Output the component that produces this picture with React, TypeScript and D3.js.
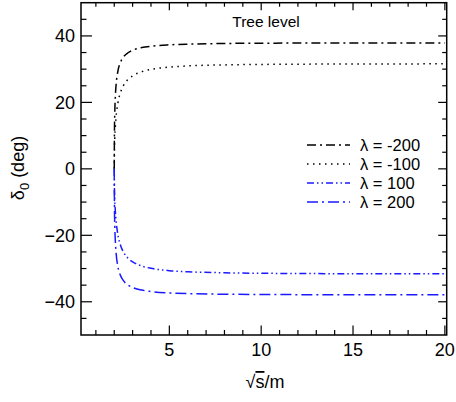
import React, { useEffect, useRef } from "react";
import * as d3 from "d3";

// sqrt(s)/m sample points
const sqrtS = [2.0, 2.01, 2.03, 2.06, 2.1, 2.2, 2.35, 2.5, 2.75, 3, 3.5, 4, 5, 6, 8, 10, 12.5, 15, 17.5, 20];

// delta_0 in degrees
const deltaM200 = [0, 10.81, 17.14, 21.81, 25.25, 29.44, 32.21, 33.64, 34.94, 35.68, 36.49, 36.91, 37.33, 37.53, 37.73, 37.81, 37.86, 37.89, 37.9, 37.91];
const deltaM100 = [0, 5.6, 9.41, 12.75, 15.62, 19.83, 23.12, 25.03, 26.89, 28.0, 29.25, 29.93, 30.63, 30.97, 31.28, 31.42, 31.51, 31.56, 31.58, 31.6];
const deltaP100 = [0, -5.6, -9.41, -12.75, -15.62, -19.83, -23.12, -25.03, -26.89, -28.0, -29.25, -29.93, -30.63, -30.97, -31.28, -31.42, -31.51, -31.56, -31.58, -31.6];
const deltaP200 = [0, -10.81, -17.14, -21.81, -25.25, -29.44, -32.21, -33.64, -34.94, -35.68, -36.49, -36.91, -37.33, -37.53, -37.73, -37.81, -37.86, -37.89, -37.9, -37.91];

const seriesLabels = ["λ = -200", "λ = -100", "λ = 100", "λ = 200"];
const xMajorTicks = [5, 10, 15, 20];
const yMajorTicks = [-40, -20, 0, 20, 40];

const W = 456;
const H = 402;
const FONT = "'Liberation Sans', Arial, Helvetica, sans-serif";

export default function App() {
  const ref = useRef<SVGSVGElement>(null);

  useEffect(() => {
    const svg = d3.select(ref.current);
    svg.selectAll("*").remove();

    const left = 81, right = 446.7, top = 2.7, bottom = 335;
    const x = d3.scaleLinear().domain([0.19, 20.1]).range([left, right]);
    const y = d3.scaleLinear().domain([-50, 50]).range([bottom, top]);

    const series = [
      { vals: deltaM200, color: "#000", dash: "9,4,2,4" },
      { vals: deltaM100, color: "#000", dash: "1.5,4.5" },
      { vals: deltaP100, color: "#1a1aff", dash: "7,3,1.5,3,1.5,3" },
      { vals: deltaP200, color: "#1a1aff", dash: "11,4,2,4" },
    ];

    svg
      .append("defs")
      .append("clipPath")
      .attr("id", "plotclip")
      .append("rect")
      .attr("x", left)
      .attr("y", top)
      .attr("width", right - left)
      .attr("height", bottom - top);

    const line = d3
      .line<number>()
      .x((_, i) => x(sqrtS[i]))
      .y((d) => y(d))
      .curve(d3.curveMonotoneX);

    const g = svg.append("g").attr("clip-path", "url(#plotclip)");
    series.forEach((s) => {
      g.append("path")
        .attr("d", line(s.vals))
        .attr("fill", "none")
        .attr("stroke", s.color)
        .attr("stroke-width", 1.5)
        .attr("stroke-dasharray", s.dash);
    });

    // ticks (inward, all four sides)
    const ticks = svg.append("g").attr("stroke", "#000").attr("stroke-width", 1.2);
    const xMinor = d3.range(1, 21);
    xMinor.forEach((v) => {
      const len = v % 5 === 0 ? 9.5 : 5;
      ticks.append("line").attr("x1", x(v)).attr("x2", x(v)).attr("y1", bottom).attr("y2", bottom - len);
      ticks.append("line").attr("x1", x(v)).attr("x2", x(v)).attr("y1", top).attr("y2", top + len * 0.8);
    });
    const yMinor = d3.range(-45, 50, 5);
    yMinor.forEach((v) => {
      const major = v % 20 === 0;
      ticks.append("line").attr("x1", left).attr("x2", left + (major ? 11 : 5.5)).attr("y1", y(v)).attr("y2", y(v));
      ticks.append("line").attr("x1", right).attr("x2", right - (major ? 8.5 : 4.5)).attr("y1", y(v)).attr("y2", y(v));
    });

    // frame
    svg
      .append("rect")
      .attr("x", left)
      .attr("y", top)
      .attr("width", right - left)
      .attr("height", bottom - top)
      .attr("fill", "none")
      .attr("stroke", "#000")
      .attr("stroke-width", 1.5);

    // tick labels
    svg
      .selectAll(".xl")
      .data(xMajorTicks)
      .enter()
      .append("text")
      .attr("x", (d) => x(d))
      .attr("y", 356)
      .attr("text-anchor", "middle")
      .attr("font-family", FONT)
      .attr("font-size", 18)
      .text((d) => d);

    svg
      .selectAll(".yl")
      .data(yMajorTicks)
      .enter()
      .append("text")
      .attr("x", 75)
      .attr("y", (d) => y(d) + 6.5)
      .attr("text-anchor", "end")
      .attr("font-family", FONT)
      .attr("font-size", 18)
      .text((d) => (d < 0 ? "\u2212" + Math.abs(d) : String(d)));

    // axis titles
    const xt = svg
      .append("text")
      .attr("x", 265)
      .attr("y", 388)
      .attr("text-anchor", "middle")
      .attr("font-family", FONT)
      .attr("font-size", 18);
    xt.append("tspan").text("\u221A");
    xt.append("tspan").style("text-decoration", "overline").text("s");
    xt.append("tspan").text("/m");

    const yt = svg
      .append("text")
      .attr("transform", "translate(24,168) rotate(-90)")
      .attr("text-anchor", "middle")
      .attr("font-family", FONT)
      .attr("font-size", 18);
    yt.append("tspan").text("\u03B4");
    yt.append("tspan").attr("font-size", 13).attr("dy", 5).text("0");
    yt.append("tspan").attr("dy", -5).text(" (deg)");

    svg
      .append("text")
      .attr("x", 266)
      .attr("y", 27)
      .attr("text-anchor", "middle")
      .attr("font-family", FONT)
      .attr("font-size", 15.5)
      .text("Tree level");

    // legend
    const leg = svg.append("g");
    series.forEach((s, i) => {
      const ly = 145 + i * 19;
      leg.append("line")
        .attr("x1", 307)
        .attr("x2", 350)
        .attr("y1", ly)
        .attr("y2", ly)
        .attr("stroke", s.color)
        .attr("stroke-width", 1.5)
        .attr("stroke-dasharray", s.dash);
      leg.append("text")
        .attr("x", 360)
        .attr("y", ly + 6)
        .attr("font-family", FONT)
        .attr("font-size", 16.5)
        .text(seriesLabels[i]);
    });
  }, []);

  return (
    <svg
      ref={ref}
      width={W}
      height={H}
      style={{ position: "absolute", left: 0, top: 0, background: "#fff" }}
    />
  );
}
